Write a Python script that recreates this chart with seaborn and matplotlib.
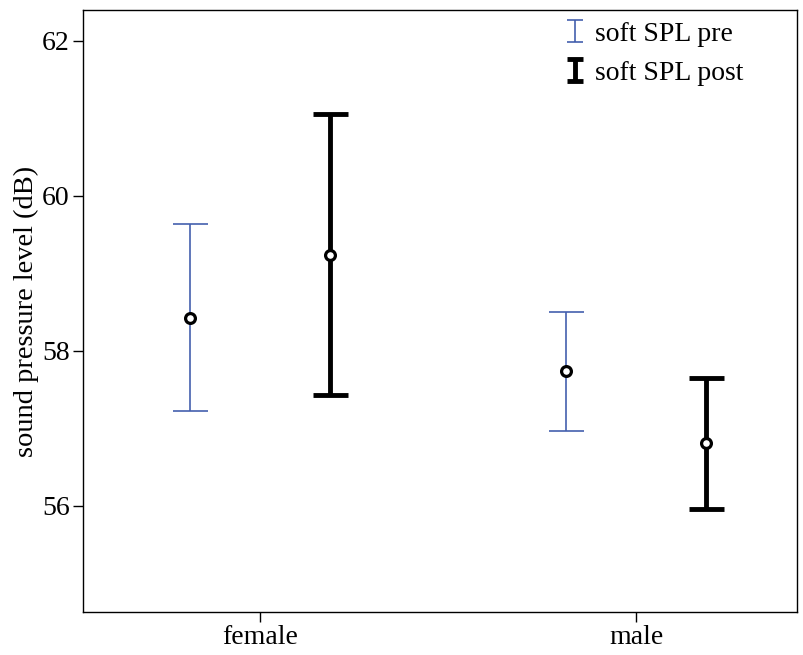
import numpy as np
import pandas as pd
import matplotlib
matplotlib.use("Agg")
import matplotlib.pyplot as plt
from matplotlib.path import Path
from matplotlib.lines import Line2D
import seaborn as sns

groups = ["female", "male"]
pre_mean = [58.43, 57.74]
pre_low = [57.23, 56.97]
pre_high = [59.64, 58.50]
post_mean = [59.24, 56.81]
post_low = [57.43, 55.96]
post_high = [61.06, 57.65]

sns.set_theme(style="ticks")
plt.rcParams['font.family'] = ['Liberation Serif', 'DejaVu Serif']
plt.rcParams['text.color'] = 'black'
plt.rcParams['axes.labelcolor'] = 'black'

fig = plt.figure(figsize=(8.04, 6.55), dpi=100)
ax = fig.add_axes([83/804, 1 - 612/655, (797-83)/804, (612-10)/655])

xpos = np.arange(len(groups))
off = 0.186
blue = "#4460ae"

pre_x = xpos - off
post_x = xpos + off
ax.errorbar(pre_x, pre_mean,
            yerr=[np.array(pre_mean) - np.array(pre_low), np.array(pre_high) - np.array(pre_mean)],
            fmt="none", ecolor=blue, elinewidth=1.2, capsize=12.6, capthick=1.2)
ax.errorbar(post_x, post_mean,
            yerr=[np.array(post_mean) - np.array(post_low), np.array(post_high) - np.array(post_mean)],
            fmt="none", ecolor="black", elinewidth=3.5, capsize=12.6, capthick=3.5)

df = pd.DataFrame({"x": np.concatenate([pre_x, post_x]),
                   "y": pre_mean + post_mean})
sns.scatterplot(data=df, x="x", y="y", ax=ax, marker="o", s=50,
                facecolor="white", edgecolor="black", linewidth=2.3, zorder=5, legend=False)

ax.set_xlim(-0.471, 1.428)
ax.set_ylim(54.63, 62.40)
ax.set_xticks(xpos)
ax.set_xticklabels(groups)
ax.set_yticks([56, 58, 60, 62])
ax.set_xlabel("")
ax.set_ylabel("sound pressure level (dB)", fontsize=20.5, labelpad=2, color="black")
ax.tick_params(axis="both", labelsize=20, length=7.5, width=1, direction="out",
               colors="black", pad=2)
for s in ax.spines.values():
    s.set_visible(True)
    s.set_linewidth(1.0)
    s.set_color("black")

ibeam = Path([(-0.75, -1), (0.75, -1), (0, -1), (0, 1), (-0.75, 1), (0.75, 1)],
             [Path.MOVETO, Path.LINETO, Path.MOVETO, Path.LINETO, Path.MOVETO, Path.LINETO])
hpre = Line2D([], [], linestyle="none", marker=ibeam, markersize=16,
              markeredgecolor=blue, markerfacecolor="none", markeredgewidth=1.2)
hpost = Line2D([], [], linestyle="none", marker=ibeam, markersize=16,
               markeredgecolor="black", markerfacecolor="none", markeredgewidth=3.5)
leg = fig.legend(handles=[hpre, hpost], labels=["soft SPL pre", "soft SPL post"],
                 loc="upper left", frameon=False, fontsize=20, numpoints=1,
                 bbox_to_anchor=(556/804, 1 - 16/655), handlelength=1.0, handletextpad=0.21,
                 labelspacing=0.48, borderpad=0.2, borderaxespad=0)
for t in leg.get_texts():
    t.set_color("black")

fig.savefig("out.png", dpi=100)
